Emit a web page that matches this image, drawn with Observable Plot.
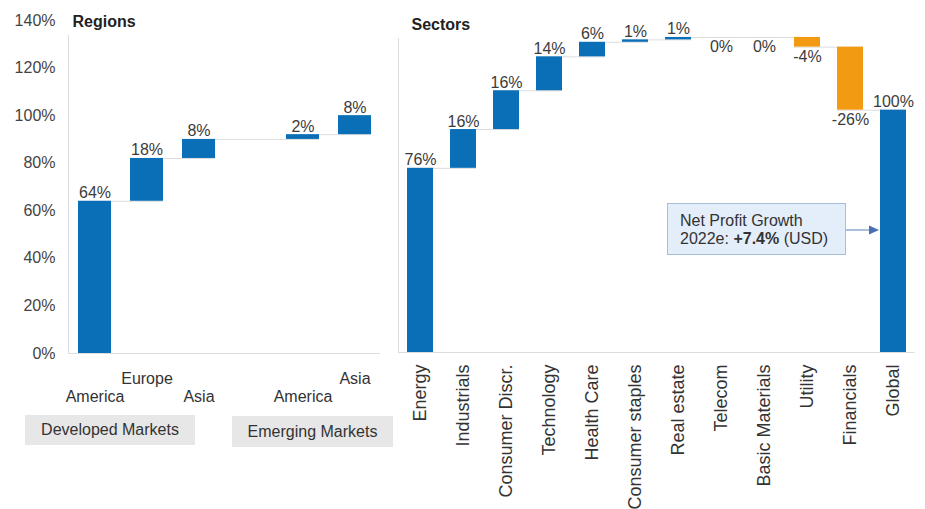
<!DOCTYPE html>
<html>
<head>
<meta charset="utf-8">
<script src="https://cdn.jsdelivr.net/npm/d3@7"></script>
<script src="https://cdn.jsdelivr.net/npm/@observablehq/plot@0.6"></script>
<style>
  body { margin: 0; background: #fff; font-family: "Liberation Sans", Arial, sans-serif; }
  #wrap { position: relative; width: 925px; height: 509px; overflow: hidden; }
  #regions, #sectors { position: absolute; top: 0; }
  #regions { left: 0; }
  #sectors { left: 390px; }
  .group {
    position: absolute; background: #e7e7e7; color: #333; font-size: 16px;
    display: flex; align-items: center; justify-content: center;
  }
  .note {
    position: absolute; left: 667px; top: 203px; width: 179px; height: 52px; box-sizing: border-box;
    background: #e3eefa; border: 1px solid #a8bfd9; color: #333; font-size: 16px;
    line-height: 18px; padding: 8px 0 0 12px; white-space: nowrap;
  }
  .note b { font-weight: bold; }
  #arrow { position: absolute; left: 840px; top: 220px; }
</style>
</head>
<body>
<div id="wrap">
  <div id="regions"></div>
  <div id="sectors"></div>
  <div class="group" style="left:25px;top:415px;width:170px;height:30px;">Developed Markets</div>
  <div class="group" style="left:232px;top:416px;width:161px;height:31px;">Emerging Markets</div>
  <div class="note">Net Profit Growth<br>2022e: <b>+7.4%</b> (USD)</div>
  <svg id="arrow" width="45" height="20">
    <line x1="6" y1="10" x2="32" y2="10" stroke="#5b7ebc" stroke-width="1"></line>
    <path d="M39,10 L29,5.5 L29,14.5 Z" fill="#4a70b4"></path>
  </svg>
</div>
<script>
// Regional contributions to 2022e net profit growth (share of total, %)
const regionKeys = ["DM America", "DM Europe", "DM Asia", "EM America", "EM Asia"];
const regionLabels = ["America", "Europe", "Asia", "America", "Asia"];
const regionShares = [64, 18, 8, 2, 8];
// Labels on the upper row of the staggered x axis
const regionUpperRow = ["DM Europe", "EM Asia"];

// Sector contributions (share of total, %)
const sectorNames = ["Energy", "Industrials", "Consumer Discr.", "Technology", "Health Care",
  "Consumer staples", "Real estate", "Telecom", "Basic Materials", "Utility", "Financials"];
const sectorShares = [76, 16, 16, 14, 6, 1, 1, 0, 0, -4, -26];
const totalName = "Global";

const yTicks = [0, 20, 40, 60, 80, 100, 120, 140];

const BLUE = "#0a6fb7";
const ORANGE = "#f29b12";
const LINE = "#dcdcdc";
const TEXT = "#3c3c3c";
const FONT = "'Liberation Sans', Arial, sans-serif";
const pct = (v) => `${v}%`;

// Turn a list of contributions into floating waterfall steps
function waterfall(keys, shares) {
  let run = 0;
  return keys.map((key, i) => {
    const start = run;
    run += shares[i];
    return {key, share: shares[i], start, end: run, kind: shares[i] < 0 ? "down" : "up"};
  });
}
function connectors(rows) {
  return rows.slice(0, -1).map((d, i) => ({x1: d.key, x2: rows[i + 1].key, y: d.end}));
}

// ---- Regions panel ----
const regionRows = waterfall(regionKeys, regionShares);
const regionLabelOf = new Map(regionKeys.map((k, i) => [k, regionLabels[i]]));
const regionDomain = [...regionKeys.slice(0, 3), " ", ...regionKeys.slice(3)];

const regions = Plot.plot({
  width: 390, height: 509,
  marginLeft: 68, marginRight: 10, marginTop: 20, marginBottom: 156,
  style: {fontFamily: FONT, fontSize: "16px", color: "#333", background: "transparent"},
  x: {domain: regionDomain, paddingInner: 0.37, paddingOuter: 0.185, axis: null, label: null},
  y: {domain: [0, 140], axis: null, label: null},
  marks: [
    Plot.frame({anchor: "left", stroke: LINE, insetTop: 15}),
    Plot.ruleY([0], {stroke: LINE}),
    Plot.axisY({ticks: yTicks, tickSize: 0, tickPadding: 13, tickFormat: pct, fontSize: 16, fill: "#444", label: null}),
    Plot.ruleY(connectors(regionRows), {x1: "x1", x2: "x2", y: "y", stroke: LINE}),
    Plot.barY(regionRows, {x: "key", y1: "start", y2: "end", fill: BLUE}),
    Plot.text(regionRows, {x: "key", y: "end", text: (d) => pct(d.share), lineAnchor: "bottom", dy: -3, fontSize: 16, fill: TEXT}),
    Plot.axisX({ticks: regionKeys.filter((k) => regionUpperRow.includes(k)), tickSize: 0, tickPadding: 19,
      tickFormat: (k) => regionLabelOf.get(k), fontSize: 16, fill: "#333", label: null}),
    Plot.axisX({ticks: regionKeys.filter((k) => !regionUpperRow.includes(k)), tickSize: 0, tickPadding: 37,
      tickFormat: (k) => regionLabelOf.get(k), fontSize: 16, fill: "#333", label: null}),
    Plot.text(["Regions"], {frameAnchor: "top-left", dx: 4, dy: -5, fontSize: 16, fontWeight: "bold", fill: "#222"})
  ]
});
document.getElementById("regions").append(regions);

// ---- Sectors panel ----
const sectorRows = waterfall(sectorNames, sectorShares);
const total = sectorRows[sectorRows.length - 1].end;
sectorRows.push({key: totalName, share: total, start: 0, end: total, kind: "total"});

const sectors = Plot.plot({
  width: 535, height: 509,
  marginLeft: 8, marginRight: 10.5, marginTop: 20, marginBottom: 157,
  style: {fontFamily: FONT, fontSize: "16px", color: "#333", background: "transparent"},
  x: {domain: sectorRows.map((d) => d.key), paddingInner: 0.4, paddingOuter: 0.2, axis: null, label: null},
  y: {domain: [0, 137], axis: null, label: null},
  color: {domain: ["up", "down", "total"], range: [BLUE, ORANGE, BLUE]},
  marks: [
    Plot.frame({anchor: "left", stroke: LINE, insetTop: 18}),
    Plot.ruleY([0], {stroke: LINE}),
    Plot.ruleY(connectors(sectorRows), {x1: "x1", x2: "x2", y: "y", stroke: LINE}),
    Plot.barY(sectorRows, {x: "key", y1: "start", y2: "end", fill: "kind"}),
    Plot.text(sectorRows.filter((d) => d.share > 0), {x: "key", y: "end", text: (d) => pct(d.share),
      lineAnchor: "bottom", dy: -3, fontSize: 16, fill: TEXT}),
    Plot.text(sectorRows.filter((d) => d.share <= 0), {x: "key", y: "end", text: (d) => pct(d.share),
      lineAnchor: "top", dy: 3, fontSize: 16, fill: TEXT}),
    Plot.axisX({tickRotate: -90, tickSize: 0, tickPadding: 12, fontSize: 18, fill: "#333", label: null}),
    Plot.text(["Sectors"], {frameAnchor: "top-left", dx: 13, dy: -2, fontSize: 16, fontWeight: "bold", fill: "#222"})
  ]
});
document.getElementById("sectors").append(sectors);
</script>
</body>
</html>
